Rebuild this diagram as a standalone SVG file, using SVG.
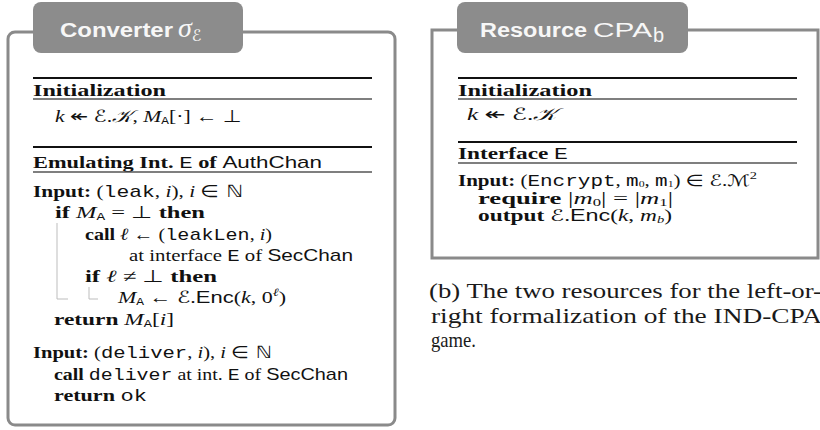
<svg xmlns="http://www.w3.org/2000/svg" width="820" height="430" viewBox="0 0 820 430">
  <style>
    text { font-family: "Liberation Serif", "DejaVu Serif", serif; font-size: 17px; fill: #111; }
    .kw { font-weight: bold; }
    .mi { font-style: italic; }
    .tt { font-family: "Liberation Mono", "DejaVu Sans Mono", monospace; }
    .sf { font-family: "Liberation Sans", "DejaVu Sans", sans-serif; }
    .cal { font-family: "DejaVu Serif", "DejaVu Sans", serif; font-style: italic; }
    .sym { font-family: "DejaVu Sans", "DejaVu Serif", sans-serif; }
    .sub { font-size: 10px; }
    .tiny { font-size: 9px; }
    .small { font-size: 16px; }
    .frame { fill: none; stroke: #8a8a8a; stroke-width: 3; }
    .tab { fill: #8c8c8c; }
    .title { fill: #f7f7f7; font-family: "Liberation Sans", "DejaVu Sans", sans-serif; font-size: 20px; }
    .title-mi { fill: #f7f7f7; font-family: "Liberation Serif", "DejaVu Serif", serif; font-style: italic; font-size: 28px; }
    .head { stroke: #111; stroke-width: 2; }
    .under { stroke: #555; stroke-width: 1.3; }
    .guide { fill: none; stroke: #bdbdbd; stroke-width: 1; }
    .caption { font-size: 21px; fill: #1a1a1a; }
  </style>

  <!-- Converter sigma_E -->
  <g id="converter">
    <rect class="frame" x="8" y="32" width="387" height="393" rx="7"/>
    <rect class="tab" x="33" y="2" width="210" height="51" rx="8"/>
    <text class="title" x="60" y="37" font-weight="bold" textLength="113" lengthAdjust="spacingAndGlyphs">Converter</text>
    <text class="title-mi" x="178" y="37">σ<tspan class="cal" dy="4" font-size="16" fill="#f7f7f7">ℰ</tspan></text>

    <line class="head" x1="33" y1="78" x2="372" y2="78"/>
    <text class="kw" x="33" y="96" textLength="133" lengthAdjust="spacingAndGlyphs">Initialization</text>
    <line class="under" x1="33" y1="99" x2="372" y2="99"/>
    <text x="55" y="122" textLength="187" lengthAdjust="spacingAndGlyphs"><tspan class="mi">k</tspan> <tspan class="sym">↞</tspan> <tspan class="cal">ℰ</tspan>.<tspan class="cal">𝒦</tspan>, <tspan class="mi">M</tspan><tspan class="tt sub" dy="2">A</tspan><tspan dy="-2">[·] ← </tspan><tspan class="sym">⊥</tspan></text>

    <line class="head" x1="33" y1="147" x2="372" y2="147"/>
    <text x="33" y="168" textLength="289" lengthAdjust="spacingAndGlyphs"><tspan class="kw">Emulating Int. </tspan><tspan class="tt">E</tspan><tspan class="kw"> of </tspan><tspan class="sf">AuthChan</tspan></text>
    <line class="under" x1="33" y1="172" x2="372" y2="172"/>

    <text x="33" y="197" textLength="210" lengthAdjust="spacingAndGlyphs"><tspan class="kw">Input:</tspan> (<tspan class="tt">leak</tspan>, <tspan class="mi">i</tspan>), <tspan class="mi">i</tspan> <tspan class="sym">∈ ℕ</tspan></text>
    <text x="55" y="218" textLength="150" lengthAdjust="spacingAndGlyphs"><tspan class="kw">if</tspan> <tspan class="mi">M</tspan><tspan class="tt sub" dy="2">A</tspan><tspan dy="-2"> = </tspan><tspan class="sym">⊥</tspan> <tspan class="kw">then</tspan></text>
    <text x="85" y="240" textLength="187" lengthAdjust="spacingAndGlyphs"><tspan class="kw">call</tspan> <tspan class="mi">ℓ</tspan> ← (<tspan class="tt">leakLen</tspan>, <tspan class="mi">i</tspan>)</text>
    <text x="129" y="261" textLength="224" lengthAdjust="spacingAndGlyphs">at interface <tspan class="tt">E</tspan> of <tspan class="sf">SecChan</tspan></text>
    <text x="85" y="282" textLength="132" lengthAdjust="spacingAndGlyphs"><tspan class="kw">if</tspan> <tspan class="mi">ℓ</tspan> ≠ <tspan class="sym">⊥</tspan> <tspan class="kw">then</tspan></text>
    <text x="118" y="303" textLength="168" lengthAdjust="spacingAndGlyphs"><tspan class="mi">M</tspan><tspan class="tt sub" dy="2">A</tspan><tspan dy="-2"> ← </tspan><tspan class="cal">ℰ</tspan>.<tspan class="sf">Enc</tspan>(<tspan class="mi">k</tspan>, 0<tspan class="mi" font-size="11" dy="-7">ℓ</tspan><tspan dy="7">)</tspan></text>
    <text x="54" y="325" textLength="120" lengthAdjust="spacingAndGlyphs"><tspan class="kw">return</tspan> <tspan class="mi">M</tspan><tspan class="tt sub" dy="2">A</tspan><tspan dy="-2">[</tspan><tspan class="mi">i</tspan>]</text>

    <!-- block guides for the nested if-bodies -->
    <path class="guide" d="M57,223 V299 H68"/>
    <path class="guide" d="M89,287 V299 H98"/>

    <text x="33" y="358" textLength="239" lengthAdjust="spacingAndGlyphs"><tspan class="kw">Input:</tspan> (<tspan class="tt">deliver</tspan>, <tspan class="mi">i</tspan>), <tspan class="mi">i</tspan> <tspan class="sym">∈ ℕ</tspan></text>
    <text x="54" y="380" textLength="294" lengthAdjust="spacingAndGlyphs"><tspan class="kw">call</tspan> <tspan class="tt">deliver</tspan> at int. <tspan class="tt">E</tspan> of <tspan class="sf">SecChan</tspan></text>
    <text x="54" y="401" textLength="93" lengthAdjust="spacingAndGlyphs"><tspan class="kw">return</tspan> <tspan class="tt">ok</tspan></text>
  </g>

  <!-- Resource CPA_b -->
  <g id="resource">
    <rect class="frame" x="432" y="30" width="386" height="228"/>
    <rect class="tab" x="457" y="2" width="231" height="51" rx="8"/>
    <text class="title" x="480" y="37" font-weight="bold" textLength="107" lengthAdjust="spacingAndGlyphs">Resource</text>
    <text class="title" x="593" y="37" textLength="59" lengthAdjust="spacingAndGlyphs">CPA</text>
    <text class="title" x="653" y="42" font-size="13">b</text>

    <line class="head" x1="458" y1="78" x2="797" y2="78"/>
    <text class="kw" x="458" y="96" textLength="134" lengthAdjust="spacingAndGlyphs">Initialization</text>
    <line class="under" x1="458" y1="99" x2="797" y2="99"/>
    <text x="467" y="120" textLength="90" lengthAdjust="spacingAndGlyphs"><tspan class="mi">k</tspan> <tspan class="sym">↞</tspan> <tspan class="cal">ℰ</tspan>.<tspan class="cal">𝒦</tspan></text>

    <line class="head" x1="458" y1="142" x2="797" y2="142"/>
    <text x="458" y="159" textLength="110" lengthAdjust="spacingAndGlyphs"><tspan class="kw">Interface </tspan><tspan class="tt">E</tspan></text>
    <line class="under" x1="458" y1="163" x2="797" y2="163"/>

    <text class="small" x="458" y="186" textLength="299" lengthAdjust="spacingAndGlyphs"><tspan class="kw">Input:</tspan> (<tspan class="tt">Encrypt</tspan>, <tspan class="tt">m</tspan><tspan class="tiny" dy="1">0</tspan><tspan dy="-1">, </tspan><tspan class="tt">m</tspan><tspan class="tiny" dy="1">1</tspan><tspan dy="-1">) </tspan><tspan class="sym">∈</tspan> <tspan class="cal">ℰ</tspan>.<tspan class="cal">ℳ</tspan><tspan font-size="11" dy="-7">2</tspan></text>
    <text class="small" x="478" y="204" textLength="195" lengthAdjust="spacingAndGlyphs"><tspan class="kw">require</tspan> |<tspan class="mi">m</tspan><tspan class="sub" dy="2">0</tspan><tspan dy="-2">| = |</tspan><tspan class="mi">m</tspan><tspan class="sub" dy="2">1</tspan><tspan dy="-2">|</tspan></text>
    <text class="small" x="478" y="221" textLength="194" lengthAdjust="spacingAndGlyphs"><tspan class="kw">output</tspan> <tspan class="cal">ℰ</tspan>.<tspan class="sf">Enc</tspan>(<tspan class="mi">k</tspan>, <tspan class="mi">m</tspan><tspan class="mi sub" dy="2">b</tspan><tspan dy="-2">)</tspan></text>
  </g>

  <g id="connectors"/>

  <!-- caption (b) -->
  <g id="caption">
    <text class="caption" x="429" y="298" textLength="393" lengthAdjust="spacingAndGlyphs">(b) The two resources for the left-or-</text>
    <text class="caption" x="431" y="323" textLength="391" lengthAdjust="spacingAndGlyphs">right formalization of the IND-CPA</text>
    <text class="caption" x="431" y="347" textLength="45" lengthAdjust="spacingAndGlyphs">game.</text>
  </g>
</svg>
